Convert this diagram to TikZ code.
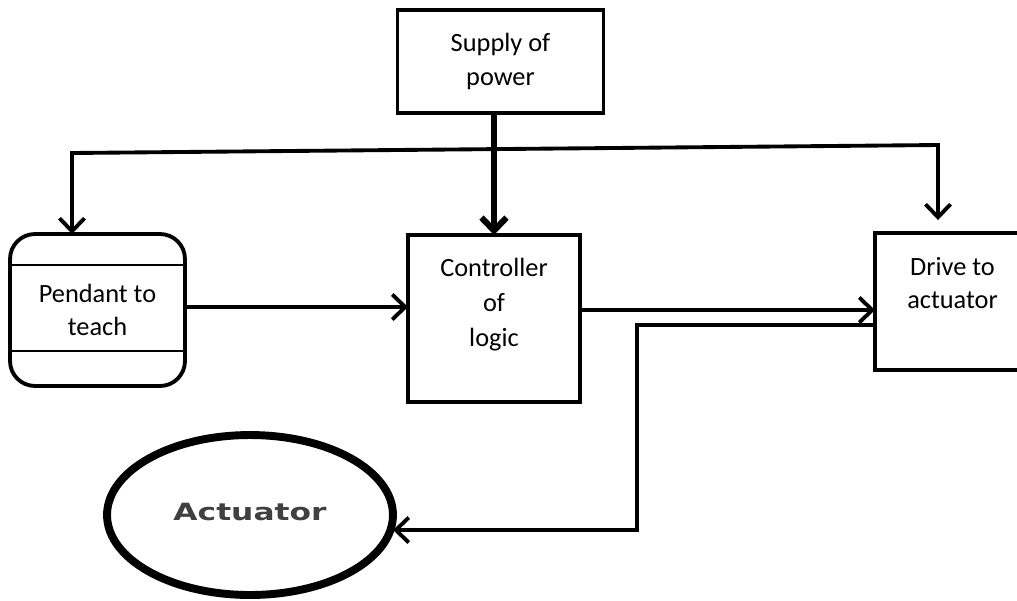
\documentclass[tikz,border=0pt]{standalone}
\usepackage{fontspec}
\setmainfont{Carlito}
\newfontfamily\actfont{DejaVu Sans}
\usepackage{tikz}
\usetikzlibrary{arrows.meta, positioning, shapes.geometric}

\begin{document}
\begin{tikzpicture}[x=0.02cm, y=-0.02cm,
    every node/.style={font=\fontsize{15}{19}\selectfont, align=center, outer sep=0pt},
    box/.style={draw, line width=2.2pt, inner sep=0pt},
    flow/.style={line width=2.2pt, -{Straight Barb[length=2.6mm, width=5mm]}}]
    \useasboundingbox (0,0) rectangle (1017,600);

    % Boxes
    \node[box, minimum width=4.12cm, minimum height=2.06cm] (supply) at (500.5,61.5) {Supply of\\power};
    \node[box, rounded corners=0.5cm, minimum width=3.5cm, minimum height=3.04cm] (pendant) at (97.5,310) {Pendant to\\teach};
    \node[box, minimum width=3.44cm, minimum height=3.34cm] (ctrl) at (494,318.5) {};
    \node[below=0.34cm of ctrl.north, font=\fontsize{15}{20}\selectfont] (ctrltext) {Controller\\of\\logic};
    \node[box, minimum width=3.1cm, minimum height=2.74cm] (drive) at (952.5,301.5) {};
    \node[below=0.36cm of drive.north] (drivetext) {Drive to\\actuator};

    % Actuator
    \node[ellipse, draw, line width=4.5pt, minimum width=5.72cm, minimum height=3.2cm, text=black!75] (act) at (250,515)
        {\raisebox{0.12cm}{\actfont\bfseries\fontsize{13.5}{15}\selectfont\scalebox{1.32}[1]{Actuator}}};

    % Pendant bands
    \draw[line width=1.2pt] ([yshift=-0.62cm]pendant.north west) -- ([yshift=-0.62cm]pendant.north east);
    \draw[line width=1.2pt] ([yshift=0.7cm]pendant.south west) -- ([yshift=0.7cm]pendant.south east);

    % Power lines
    \coordinate (busL) at (72,153);
    \coordinate (busR) at (938,145);
    \draw[flow, line width=3.5pt] (ctrl.north |- supply.south) -- (ctrl.north);
    \draw[flow, {Straight Barb[length=2.6mm, width=5mm]}-{Straight Barb[length=2.6mm, width=5mm]}]
        (busL |- pendant.north) -- (busL) -- (busR) -- ([yshift=0.26cm]busR |- drive.north);

    % Signal lines
    \draw[flow] ([yshift=0.06cm]pendant.east) -- ([yshift=0.06cm]pendant.east -| ctrl.west);
    \draw[flow] ([yshift=0.17cm]ctrl.east) -- ([yshift=0.17cm]ctrl.east -| drive.west);
    \coordinate (turn) at (637,530);
    \draw[flow] ([yshift=-0.47cm]drive.west) -| (turn) -- (turn -| act.east);

\end{tikzpicture}
\end{document}
